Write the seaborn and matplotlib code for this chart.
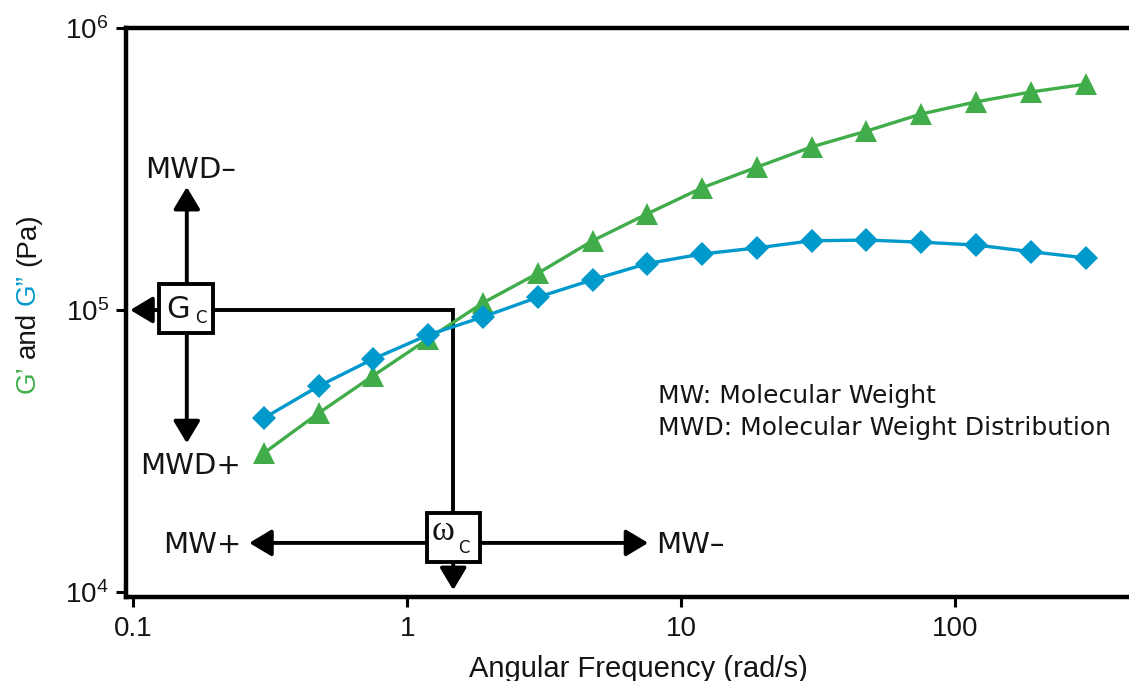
import matplotlib
matplotlib.use("Agg")
import matplotlib.pyplot as plt
import numpy as np
import pandas as pd
import seaborn as sns
from matplotlib.patches import Rectangle
from matplotlib.ticker import NullLocator

# ---------------- data ----------------
freq = [0.30, 0.475, 0.75, 1.19, 1.89, 3.0, 4.75, 7.5, 11.9, 18.9,
        30.0, 47.5, 75.0, 119.0, 189.0, 300.0]
g_storage = [31100, 43100, 58400, 78900, 106000, 135000, 176000, 219000,
             271000, 321000, 379000, 431000, 495000, 547000, 593000, 632000]
g_loss = [41400, 53700, 67000, 81500, 94500, 111000, 128000, 146000,
          158000, 166000, 176000, 177000, 174000, 170000, 161000, 153000]

x_ticks = [0.1, 1, 10, 100]
x_tick_labels = ["0.1", "1", "10", "100"]
y_ticks = [1e4, 1e5, 1e6]
y_tick_labels = [r"$\mathdefault{10^{4}}$", r"$\mathdefault{10^{5}}$",
                 r"$\mathdefault{10^{6}}$"]

x_label = "Angular Frequency (rad/s)"
y_label_parts = ["G’", "and", "G”", "(Pa)"]
note_lines = ["MW: Molecular Weight", "MWD: Molecular Weight Distribution"]

# schematic crossover values
gc_value = 1e5
wc_value = 1.472

GREEN = "#40AD4A"
BLUE = "#0099CC"
DARK = "#141414"

sns.set_theme(style="ticks")
plt.rcParams["font.family"] = ["Liberation Sans", "DejaVu Sans"]
GOTHIC = ["DejaVu Sans"]

W, H = 1129, 681
fig = plt.figure(figsize=(W / 100, H / 100), dpi=100)
ax = fig.add_axes([126 / W, 1 - 597 / H, 1 - 126 / W, (597 - 28) / H])
ax.set_xscale("log")
ax.set_yscale("log")

sns.lineplot(x=freq, y=g_storage, color=GREEN, marker="^", markersize=16,
             markeredgewidth=0, linewidth=2.4, ax=ax, zorder=3)
sns.lineplot(x=freq, y=g_loss, color=BLUE, marker="D", markersize=12,
             markeredgewidth=0, linewidth=2.4, ax=ax, zorder=4)

ax.set_xlim(10 ** (-1 - 7.3 / 274), 10 ** (-1 + (W - 133) / 274))
ax.set_ylim(10 ** (6 - 569 / 282), 1e6)

ax.set_xticks(x_ticks, x_tick_labels)
ax.set_yticks(y_ticks, y_tick_labels)
ax.xaxis.set_minor_locator(NullLocator())
ax.yaxis.set_minor_locator(NullLocator())
ax.tick_params(axis="both", which="major", length=7, width=2.2,
               direction="out", color="black", labelsize=20,
               labelcolor=DARK)
ax.tick_params(axis="x", pad=6.5)
ax.tick_params(axis="y", pad=5.5)
for side in ["left", "top", "bottom"]:
    ax.spines[side].set_linewidth(3.2)
    ax.spines[side].set_color("black")
ax.spines["right"].set_visible(False)
ax.grid(False)

ax.set_xlabel(x_label, fontsize=21, color=DARK, va="baseline")
ax.xaxis.set_label_coords(638.5 / W, 1 - 677 / H, transform=fig.transFigure)
ax.set_ylabel("")

# ---------------- schematic annotations ----------------
LW = 2.8
arrow_style = "-|>,head_length=0.45,head_width=0.27"


def arrow(start, end):
    ax.annotate("", xy=end, xytext=start,
                arrowprops=dict(arrowstyle=arrow_style, mutation_scale=30,
                                lw=LW, color="black", shrinkA=0, shrinkB=0),
                zorder=2)


# G_C box
gc_x = 0.1568
gc_box = (0.1244, 0.1959, 82860, 123700)
ax.add_patch(Rectangle((gc_box[0], gc_box[2]), gc_box[1] - gc_box[0],
                       gc_box[3] - gc_box[2], facecolor="white",
                       edgecolor="black", lw=LW, zorder=5))
gc_mid = 10 ** ((np.log10(gc_box[2]) + np.log10(gc_box[3])) / 2)
ax.annotate("G", xy=(gc_x, gc_mid), xytext=(-6.0, -6.6),
            textcoords="offset points", ha="center", va="baseline",
            fontsize=22, family=GOTHIC, color=DARK, zorder=6)
ax.annotate("C", xy=(gc_x, gc_mid), xytext=(10.0, -10.6),
            textcoords="offset points", ha="center", va="baseline",
            fontsize=12, family=GOTHIC, color=DARK, zorder=6)
arrow((gc_box[0], gc_value), (0.0975, gc_value))
arrow((gc_x, gc_box[3]), (gc_x, 273000))
arrow((gc_x, gc_box[2]), (gc_x, 33700))

# omega_C box
wc_box = (1.183, 1.846, 12760, 19050)
ax.plot([gc_box[1], wc_value, wc_value], [gc_value, gc_value, wc_box[3]],
        color="black", lw=LW, solid_joinstyle="miter", zorder=2)
ax.add_patch(Rectangle((wc_box[0], wc_box[2]), wc_box[1] - wc_box[0],
                       wc_box[3] - wc_box[2], facecolor="white",
                       edgecolor="black", lw=LW, zorder=5))
wc_mid = 10 ** ((np.log10(wc_box[2]) + np.log10(wc_box[3])) / 2)
ax.annotate("ω", xy=(wc_value, wc_mid), xytext=(-7.0, -2.0),
            textcoords="offset points", ha="center", va="baseline",
            fontsize=25, family=["Liberation Serif", "DejaVu Serif"],
            color=DARK, zorder=6)
ax.annotate("C", xy=(wc_value, wc_mid), xytext=(7.6, -11.4),
            textcoords="offset points", ha="center", va="baseline",
            fontsize=12, family=GOTHIC, color=DARK, zorder=6)
mw_y = 14930
arrow((wc_value, wc_box[2]), (wc_value, 10160))
arrow((wc_box[0], mw_y), (0.2651, mw_y))
arrow((wc_box[1], mw_y), (7.58, mw_y))

# labels
ax.text(0.162, 294000, "MWD–", ha="center", va="baseline", fontsize=21,
        family=GOTHIC, color=DARK)
ax.text(0.162, 26200, "MWD+", ha="center", va="baseline", fontsize=21,
        family=GOTHIC, color=DARK)
ax.text(0.2477, 13750, "MW+", ha="right", va="baseline", fontsize=21,
        family=GOTHIC, color=DARK)
ax.text(8.11, 13750, "MW–", ha="left", va="baseline", fontsize=21,
        family=GOTHIC, color=DARK)
ax.text(8.24, 46800, note_lines[0], ha="left", va="baseline", fontsize=18,
        family=GOTHIC, color=DARK)
ax.text(8.24, 36050, note_lines[1], ha="left", va="baseline", fontsize=18,
        family=GOTHIC, color=DARK)

# ---------------- multi-coloured y label ----------------
renderer = fig.canvas.get_renderer()
ykw = dict(fontsize=20, family=["Liberation Sans", "DejaVu Sans"])


def text_width(s):
    t = fig.text(0, 0, s, **ykw)
    w = t.get_window_extent(renderer=renderer).width
    t.remove()
    return w


part_colors = [GREEN, DARK, BLUE, DARK]
y_start = H - 393
x_base = 35
for i, (part, col) in enumerate(zip(y_label_parts, part_colors)):
    joined = " ".join(y_label_parts[: i + 1])
    off = text_width(joined) - text_width(part)
    fig.text(x_base / W, (y_start + off) / H, part, rotation=90,
             rotation_mode="anchor", ha="left", va="baseline", color=col,
             **ykw)

fig.savefig("out.png", dpi=100)
